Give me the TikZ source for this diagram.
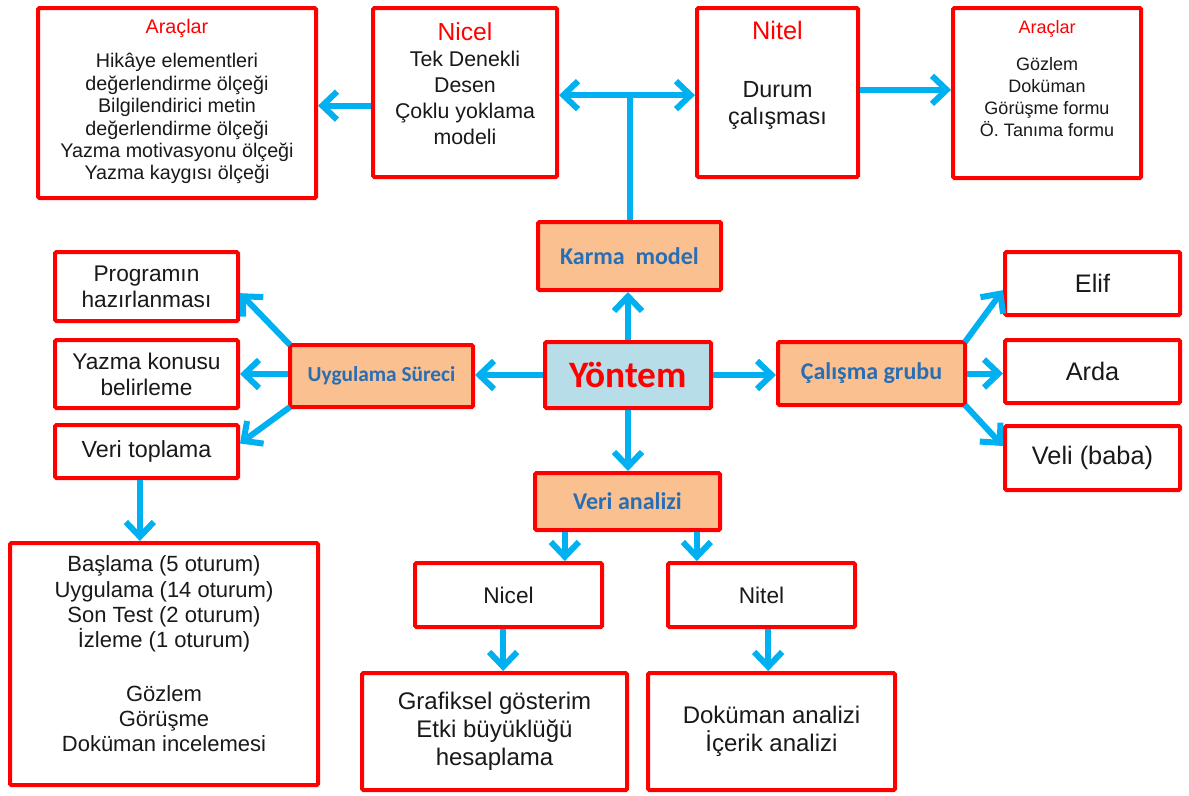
\documentclass[tikz,border=0pt]{standalone}
\usepackage{fontspec}
\setmainfont{Liberation Sans}
\newfontfamily\calibri{Carlito}
\usetikzlibrary{arrows.meta}
\definecolor{arrc}{RGB}{0,176,240}
\definecolor{peach}{RGB}{250,192,144}
\definecolor{lblue}{RGB}{183,222,232}
\definecolor{tblue}{RGB}{40,110,180}
\definecolor{txt}{RGB}{25,25,25}
\newcommand{\fs}[2]{\fontsize{#1}{#2}\selectfont}
\begin{document}
\begin{tikzpicture}[x=0.75pt,y=-0.75pt,
  box/.style={draw=red, line width=3pt, rounded corners=1pt, fill=white, align=center, inner sep=0pt, text=txt},
  hbox/.style={box, fill=peach, text=tblue, font=\calibri\bfseries\fs{18}{20}},
  lbl/.style={align=center, inner sep=0pt, text=txt},
  arr/.style={draw=arrc, line width=4.5pt, -{Straight Barb[length=11pt,width=21pt]}},
  dbl/.style={draw=arrc, line width=4.5pt, {Straight Barb[length=11pt,width=21pt]}-{Straight Barb[length=11pt,width=21pt]}},
  ln/.style={draw=arrc, line width=4.5pt}]
\useasboundingbox (0,0) rectangle (1189,796);
% top row
\node[box, minimum width=208.5pt, minimum height=142.5pt] (araL) at (177,103) {};
\node[lbl, font=\fs{14.8}{16.8}] at ([yshift=1pt]araL.center)
  {{\color{red}Araçlar}\\[9pt]Hikâye elementleri\\değerlendirme ölçeği\\Bilgilendirici metin\\değerlendirme ölçeği\\Yazma motivasyonu ölçeği\\Yazma kaygısı ölçeği};
\node[box, minimum width=138pt, minimum height=126.75pt] (nicelT) at (465,92.5) {};
\node[lbl, font=\fs{16}{19.5}] at ([yshift=7pt]nicelT.center)
  {{\color{red}\fs{18.5}{19.5}Nicel}\\Tek Denekli\\Desen\\Çoklu yoklama\\modeli};
\node[box, minimum width=120.75pt, minimum height=126.75pt] (nitelT) at (777.5,92.5) {};
\node[lbl, font=\fs{17.5}{20}] at ([yshift=13pt]nitelT.center)
  {{\color{red}\fs{19}{20}Nitel}\\[24pt]Durum\\çalışması};
\node[box, minimum width=141pt, minimum height=127.5pt] (araR) at (1047,93) {};
\node[lbl, font=\fs{13.5}{16.5}] at ([yshift=11pt]araR.center)
  {{\color{red}\fs{13.5}{16.5}Araçlar}\\[11pt]Gözlem\\Doküman\\Görüşme formu\\Ö. Tanıma formu};
% middle
\node[hbox, minimum width=137.25pt, minimum height=51pt] (karma) at (629.5,256) {Karma\ \ model};
\node[box, fill=lblue, minimum width=124.5pt, minimum height=49.5pt, text=red, font=\calibri\bfseries\fs{28}{30}] (yontem) at (628,375) {Yöntem};
\node[hbox, minimum width=140.25pt, minimum height=47.25pt] (calisma) at (871.5,373.5) {Çalışma grubu};
\node[hbox, minimum width=137.25pt, minimum height=46.5pt, font=\calibri\bfseries\fs{16}{18}] (uyg) at (381.5,376) {Uygulama Süreci};
\node[hbox, minimum width=138.75pt, minimum height=42.75pt] (veriA) at (627.5,501.5) {Veri analizi};
% left column
\node[box, minimum width=137.25pt, minimum height=51.75pt, font=\fs{17}{19.5}] (prog) at (146.5,286.5) {Programın\\hazırlanması};
\node[box, minimum width=137.25pt, minimum height=51pt, font=\fs{17}{19.5}] (yazma) at (146.5,374) {Yazma konusu\\belirleme};
\node[box, minimum width=137.25pt, minimum height=39.75pt, font=\fs{17.5}{19.5}] (veri) at (146.5,451.5) {Veri toplama};
\node[box, minimum width=231pt, minimum height=181.5pt] (basl) at (164,664) {};
\node[lbl, font=\fs{16.5}{19}] at ([yshift=7.5pt]basl.center)
  {Başlama (5 oturum)\\Uygulama (14 oturum)\\Son Test (2 oturum)\\İzleme (1 oturum)\\[21pt]Gözlem\\Görüşme\\Doküman incelemesi};
% right column
\node[box, minimum width=131.25pt, minimum height=47.25pt, font=\fs{19}{21}] (elif) at (1092.5,283.5) {Elif};
\node[box, minimum width=131.25pt, minimum height=47.25pt, font=\fs{19}{21}] (arda) at (1092.5,371.5) {Arda};
\node[box, minimum width=131.25pt, minimum height=48pt, font=\fs{19}{21}] (veli) at (1092.5,458) {Veli (baba)};
% bottom
\node[box, minimum width=140.25pt, minimum height=48pt, font=\fs{17}{19}] (nicelB) at (508.5,595) {Nicel};
\node[box, minimum width=140.25pt, minimum height=48pt, font=\fs{17}{19}] (nitelB) at (761.5,595) {Nitel};
\node[box, minimum width=198.75pt, minimum height=87.75pt, font=\fs{18}{21}] (graf) at (494.5,731.5) {Grafiksel gösterim\\Etki büyüklüğü\\hesaplama};
\node[box, minimum width=185.25pt, minimum height=87.75pt, font=\fs{18}{21}] (dok) at (771.5,731.5) {Doküman analizi\\İçerik analizi};
% connectors
\coordinate (j) at (karma.north |- nicelT.east);
\draw[ln] (karma.north) -- ([yshift=-2.2pt]j);
\draw[dbl] ([yshift=-2pt]nicelT.east) -- ([yshift=-2pt]nitelT.west);
\draw[arr] ([yshift=-2pt]nicelT.west |- araL.east) -- ([yshift=-2pt]araL.east);
\draw[arr] ([yshift=2pt]nitelT.east) -- ([yshift=2pt]nitelT.east -| araR.west);
\draw[arr] (yontem.north) -- (yontem.north |- karma.south);
\draw[arr] (yontem.west) -- (yontem.west -| uyg.east);
\draw[arr] (yontem.east) -- (yontem.east -| calisma.west);
\draw[arr] (yontem.south) -- (yontem.south |- veriA.north);
\draw[arr] ([shift={(1.5pt,-1.5pt)}]uyg.north west) -- ([yshift=-5pt]prog.east);
\draw[arr] (uyg.west |- yazma.east) -- (yazma.east);
\draw[arr] ([shift={(1.5pt,1.5pt)}]uyg.south west) -- ([yshift=6pt]veri.east);
\draw[arr] ([xshift=-5pt]veri.south) -- ([xshift=-5pt]veri.south |- basl.north);
\draw[arr] ([shift={(-1.5pt,-1.5pt)}]calisma.north east) -- ([yshift=-5pt]elif.west);
\draw[arr] (calisma.east) -- (calisma.east -| arda.west);
\draw[arr] ([shift={(-1.5pt,1.5pt)}]calisma.south east) -- ([yshift=9pt]veli.west);
\draw[arr] ([xshift=-47pt]veriA.south) -- ([xshift=-47pt]veriA.south |- nicelB.north);
\draw[arr] ([xshift=52pt]veriA.south) -- ([xshift=52pt]veriA.south |- nitelB.north);
\draw[arr] ([xshift=-4pt]nicelB.south) -- ([xshift=-4pt]nicelB.south |- graf.north);
\draw[arr] ([xshift=5pt]nitelB.south) -- ([xshift=5pt]nitelB.south |- dok.north);
\end{tikzpicture}
\end{document}
